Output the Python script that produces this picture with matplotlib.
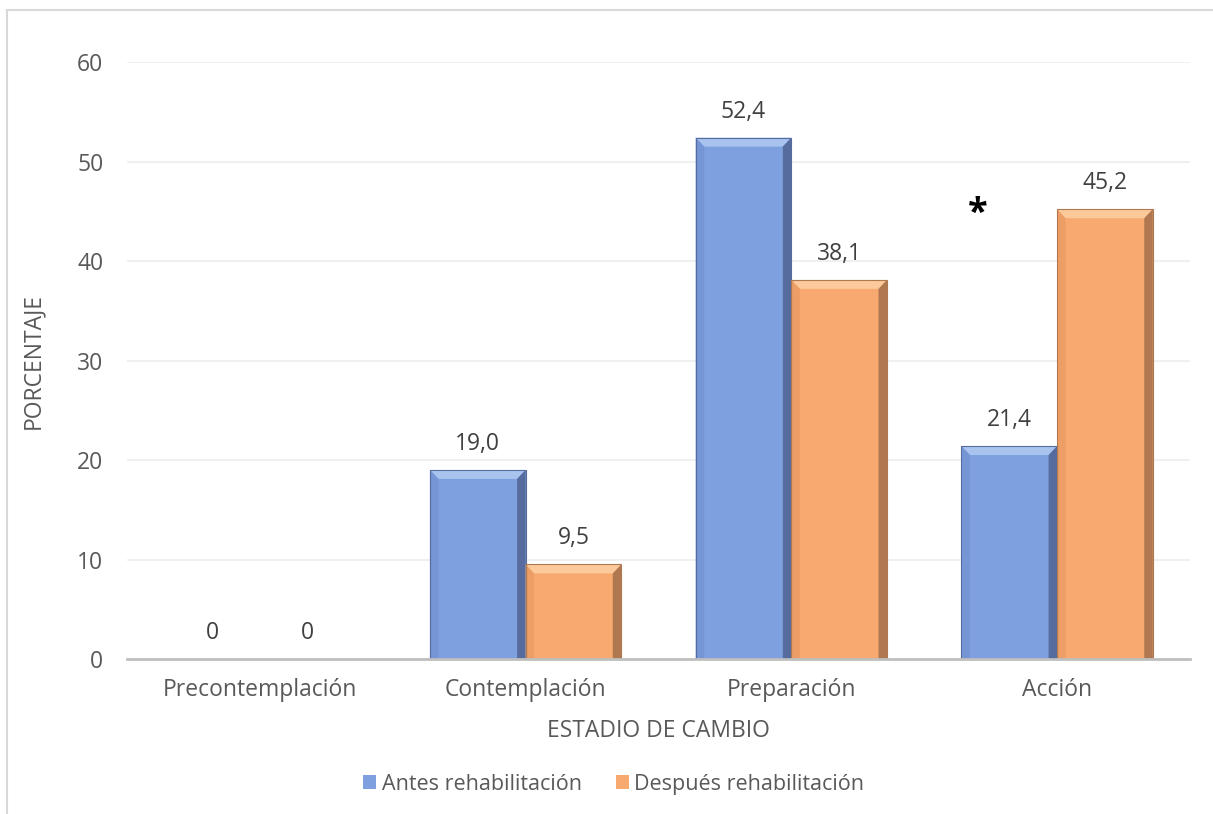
import numpy as np
import matplotlib.pyplot as plt
from matplotlib.patches import Polygon, Rectangle

categories = ['Precontemplación', 'Contemplación', 'Preparación', 'Acción']
antes = [0, 19.0, 52.4, 21.4]
despues = [0, 9.5, 38.1, 45.2]
series_names = ['Antes rehabilitación', 'Después rehabilitación']
yticks = [0, 10, 20, 30, 40, 50, 60]

plt.rcParams['font.family'] = ['Open Sans', 'DejaVu Sans']
txt = '#595959'
fs = 16.5

fig = plt.figure(figsize=(12.13, 8.14), dpi=100)
ax = fig.add_axes([0.1047, 0.1904, 0.8763, 0.7334])

# chart frame (light gray, cut at right/bottom)
fig.patches.append(Rectangle((7 / 1213, -0.1), 1.2, 1 - 10 / 814 + 0.1,
                             transform=fig.transFigure, fill=False,
                             edgecolor='#D9D9D9', linewidth=1.5))

x = np.arange(len(categories))
w = 0.36
colors = [('#7EA0DE', '#A9C3EF', '#566C9E', '#7595D4'),
          ('#F8A970', '#FCCA9A', '#B07850', '#EC9E66')]

bars = []
for i, (vals, c) in enumerate(zip([antes, despues], colors)):
    b = ax.bar(x + (i - 0.5) * w, vals, w, color=c[0], label=series_names[i],
               zorder=3)
    bars.append(b)
    # bevel effect
    dx, dy = 0.032, 0.9
    for r in b:
        x0, y0 = r.get_x(), r.get_y()
        x1, y1 = x0 + r.get_width(), y0 + r.get_height()
        if r.get_height() <= 0:
            continue
        ax.add_patch(Polygon([(x0, y1), (x1, y1), (x1 - dx, y1 - dy), (x0 + dx, y1 - dy)],
                             facecolor=c[1], edgecolor='none', zorder=4))
        ax.add_patch(Polygon([(x1, y1), (x1 - dx, y1 - dy), (x1 - dx, y0), (x1, y0)],
                             facecolor=c[2], edgecolor='none', zorder=4))
        ax.add_patch(Polygon([(x0, y1), (x0 + dx, y1 - dy), (x0 + dx, y0), (x0, y0)],
                             facecolor=c[3], edgecolor='none', zorder=4))
        ax.add_patch(Rectangle((x0, y0), r.get_width(), r.get_height(), fill=False,
                               edgecolor=c[2], linewidth=0.8, zorder=5))

# data labels
for b, vals in zip(bars, [antes, despues]):
    for r, v in zip(b, vals):
        lab = '0' if v == 0 else f'{v:.1f}'.replace('.', ',')
        ax.annotate(lab, (r.get_x() + r.get_width() / 2, v), xytext=(0, 26),
                    textcoords='offset pixels', ha='center', va='center',
                    fontsize=fs, color='#404040')

ax.text(3 - 0.30, 44.7, '*', ha='center', va='center', fontsize=26,
        fontweight='bold', color='black')

ax.set_xlim(-0.5, 3.5)
ax.set_ylim(0, 60)
ax.set_yticks(yticks)
ax.set_xticks(x)
ax.set_xticklabels(categories)
ax.tick_params(axis='both', length=0, labelsize=fs, labelcolor=txt)
ax.tick_params(axis='y', pad=17)
ax.tick_params(axis='x', pad=14)
ax.grid(axis='y', color='#EDEDED', linewidth=1.2, zorder=0)
for s in ['top', 'right', 'left']:
    ax.spines[s].set_visible(False)
ax.spines['bottom'].set_color('#BFBFBF')
ax.spines['bottom'].set_linewidth(2)
ax.spines['bottom'].set_zorder(6)

ax.set_xlabel('ESTADIO DE CAMBIO', fontsize=fs, color=txt, labelpad=12)
ax.set_ylabel('PORCENTAJE', fontsize=fs, color=txt, labelpad=23)

ax.legend(loc='center', bbox_to_anchor=(0.458, -0.21), ncol=2, frameon=False,
          fontsize=15.5, labelcolor=txt, handlelength=0.6, handleheight=0.6,
          handletextpad=0.25, columnspacing=1.6)

fig.savefig('out.png', dpi=100, facecolor='white')
